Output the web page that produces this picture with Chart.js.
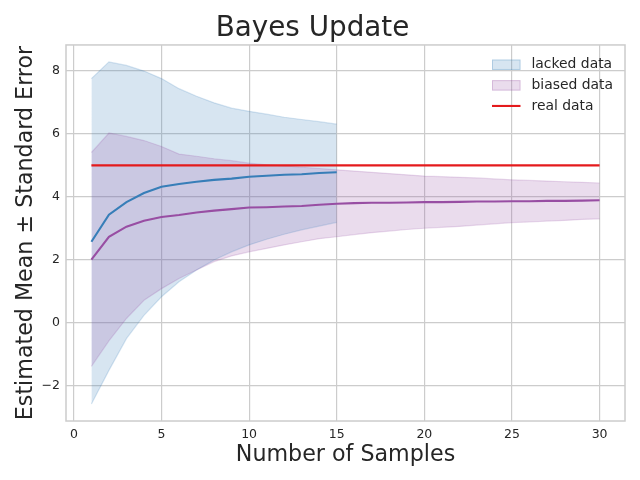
<!DOCTYPE html>
<html>
<head>
<meta charset="utf-8">
<script src="https://cdn.jsdelivr.net/npm/chart.js@4/dist/chart.umd.min.js"></script>
<style>
  html, body { margin: 0; padding: 0; background: #ffffff; }
  #wrap { width: 640px; height: 480px; }
</style>
</head>
<body>
<div id="wrap"><canvas id="c" width="640" height="480"></canvas></div>
<script>
// ---- data ----
const titleText = 'Bayes Update';
const xTitle = 'Number of Samples';
const yTitle = 'Estimated Mean \u00b1 Standard Error';
const legendLabels = ['lacked data', 'biased data', 'real data'];

const xTicks = [0, 5, 10, 15, 20, 25, 30];
const yTicks = [-2, 0, 2, 4, 6, 8];

const lackedSamples = [1, 2, 3, 4, 5, 6, 7, 8, 9, 10, 11, 12, 13, 14, 15];
const lackedMean  = [2.57, 3.43, 3.83, 4.12, 4.32, 4.41, 4.48, 4.54, 4.58, 4.64, 4.67, 4.70, 4.72, 4.76, 4.78];
const lackedUpper = [7.76, 8.29, 8.18, 8.00, 7.76, 7.44, 7.20, 6.99, 6.82, 6.72, 6.63, 6.53, 6.46, 6.39, 6.31];
const lackedLower = [-2.59, -1.52, -0.51, 0.23, 0.82, 1.30, 1.67, 1.99, 2.25, 2.47, 2.65, 2.81, 2.95, 3.07, 3.19];

const biasedSamples = [1, 2, 3, 4, 5, 6, 7, 8, 9, 10, 11, 12, 13, 14, 15,
                       16, 17, 18, 19, 20, 21, 22, 23, 24, 25, 26, 27, 28, 29, 30];
const biasedMean  = [2.00, 2.73, 3.05, 3.24, 3.36, 3.42, 3.50, 3.56, 3.61, 3.66, 3.67, 3.69, 3.71, 3.75, 3.78,
                     3.80, 3.81, 3.81, 3.82, 3.83, 3.83, 3.84, 3.85, 3.85, 3.86, 3.86, 3.87, 3.87, 3.88, 3.89];
const biasedUpper = [5.41, 6.03, 5.92, 5.79, 5.60, 5.36, 5.29, 5.21, 5.15, 5.07, 5.02, 4.98, 4.94, 4.90, 4.86,
                     4.82, 4.78, 4.74, 4.70, 4.66, 4.64, 4.62, 4.60, 4.57, 4.54, 4.52, 4.50, 4.48, 4.46, 4.44];
const biasedLower = [-1.39, -0.58, 0.13, 0.71, 1.08, 1.40, 1.67, 1.94, 2.12, 2.25, 2.36, 2.47, 2.57, 2.67, 2.73,
                     2.80, 2.86, 2.91, 2.96, 3.00, 3.03, 3.06, 3.10, 3.14, 3.18, 3.20, 3.23, 3.25, 3.28, 3.30];

const realSamples = [1, 30];
const realValue = [5, 5];

// ---- styling ----
const FONT = "'DejaVu Sans', 'Liberation Sans', sans-serif";
const TEXT = '#262626';
const GRID = '#cccccc';
const BLUE = '#377eb8', BLUE_F = 'rgba(55,126,184,0.2)';
const PURPLE = '#984ea3', PURPLE_F = 'rgba(152,78,163,0.2)';
const RED = '#e41a1c';
const LW = 2.1;

const pts = (xs, ys) => xs.map((x, i) => ({ x: x, y: ys[i] }));

const datasets = [
  { label: legendLabels[0], data: pts(lackedSamples, lackedUpper), fill: 1,
    backgroundColor: BLUE_F, borderColor: BLUE_F, borderWidth: 1.2, pointRadius: 0, order: 6 },
  { label: '_lackedLower', data: pts(lackedSamples, lackedLower), fill: false,
    borderColor: BLUE_F, borderWidth: 1.2, pointRadius: 0, order: 6 },
  { label: legendLabels[1], data: pts(biasedSamples, biasedUpper), fill: 3,
    backgroundColor: PURPLE_F, borderColor: PURPLE_F, borderWidth: 1.2, pointRadius: 0, order: 5 },
  { label: '_biasedLower', data: pts(biasedSamples, biasedLower), fill: false,
    borderColor: PURPLE_F, borderWidth: 1.2, pointRadius: 0, order: 5 },
  { label: '_lackedMean', data: pts(lackedSamples, lackedMean), fill: false,
    borderColor: BLUE, borderWidth: LW, pointRadius: 0, order: 3 },
  { label: '_biasedMean', data: pts(biasedSamples, biasedMean), fill: false,
    borderColor: PURPLE, borderWidth: LW, pointRadius: 0, order: 2 },
  { label: legendLabels[2], data: pts(realSamples, realValue), fill: false,
    borderColor: RED, borderWidth: LW, pointRadius: 0, order: 1 }
];

const legendItems = [
  { text: legendLabels[0], kind: 'patch', fill: BLUE_F, edge: 'rgba(55,126,184,0.25)' },
  { text: legendLabels[1], kind: 'patch', fill: PURPLE_F, edge: 'rgba(152,78,163,0.25)' },
  { text: legendLabels[2], kind: 'line', color: RED }
];

const framePlugin = {
  id: 'frame',
  afterDatasetsDraw(chart) {
    const { ctx, chartArea: a } = chart;
    ctx.save();
    ctx.strokeStyle = GRID;
    ctx.lineWidth = 1.5;
    ctx.strokeRect(a.left, a.top, a.right - a.left, a.bottom - a.top);
    ctx.restore();
  }
};

const innerLegend = {
  id: 'innerLegend',
  afterDraw(chart) {
    const { ctx, chartArea: a } = chart;
    ctx.save();
    ctx.font = '13.9px ' + FONT;
    ctx.textBaseline = 'middle';
    ctx.textAlign = 'left';
    const x0 = a.right - 133, rowH = 20.6, y0 = a.top + 19.8;
    legendItems.forEach((it, i) => {
      const cy = y0 + i * rowH;
      if (it.kind === 'patch') {
        ctx.fillStyle = it.fill;
        ctx.fillRect(x0, cy - 5.2, 28.5, 10.4);
        ctx.strokeStyle = it.edge;
        ctx.lineWidth = 1;
        ctx.strokeRect(x0 + 0.5, cy - 4.7, 27.5, 9.4);
      } else {
        ctx.strokeStyle = it.color;
        ctx.lineWidth = LW;
        ctx.beginPath();
        ctx.moveTo(x0, cy);
        ctx.lineTo(x0 + 28.5, cy);
        ctx.stroke();
      }
      ctx.fillStyle = TEXT;
      ctx.fillText(it.text, x0 + 39.5, cy);
    });
    ctx.restore();
  }
};

new Chart(document.getElementById('c'), {
  type: 'line',
  data: { datasets: datasets },
  plugins: [framePlugin, innerLegend],
  options: {
    responsive: false,
    animation: false,
    layout: { padding: { left: 0, right: 15, top: 0, bottom: 0 } },
    elements: { line: { tension: 0 } },
    plugins: {
      legend: { display: false },
      tooltip: { enabled: false },
      filler: { drawTime: 'beforeDatasetsDraw', propagate: false },
      title: {
        display: true,
        text: titleText,
        color: TEXT,
        font: { family: FONT, size: 27.8, weight: 'normal', lineHeight: 1.2 },
        padding: { top: 11.6, bottom: 0 }
      }
    },
    scales: {
      x: {
        type: 'linear',
        min: -0.45,
        max: 31.45,
        afterBuildTicks(axis) { axis.ticks = xTicks.map(v => ({ value: v })); },
        afterFit(axis) { axis.height = 59; },
        grid: { color: GRID, lineWidth: 1.2, drawTicks: false },
        border: { display: false },
        ticks: {
          color: TEXT, padding: 6,
          font: { family: FONT, size: 12.5 },
          maxRotation: 0,
          callback: v => String(v)
        },
        title: {
          display: true, text: xTitle, color: TEXT,
          font: { family: FONT, size: 22.2, lineHeight: 1.2 },
          padding: { top: 0, bottom: 11 }
        }
      },
      y: {
        type: 'linear',
        min: -3.13,
        max: 8.83,
        afterBuildTicks(axis) { axis.ticks = yTicks.map(v => ({ value: v })); },
        afterFit(axis) { axis.width = 66; },
        grid: { color: GRID, lineWidth: 1.2, drawTicks: false },
        border: { display: false },
        ticks: {
          color: TEXT, padding: 6,
          font: { family: FONT, size: 12.5 },
          callback: v => (v < 0 ? '\u2212' + Math.abs(v) : String(v))
        },
        title: {
          display: true, text: yTitle, color: TEXT,
          font: { family: FONT, size: 22.2, lineHeight: 1.2 },
          padding: { top: 12.5, bottom: 0 }
        }
      }
    }
  }
});
</script>
</body>
</html>
